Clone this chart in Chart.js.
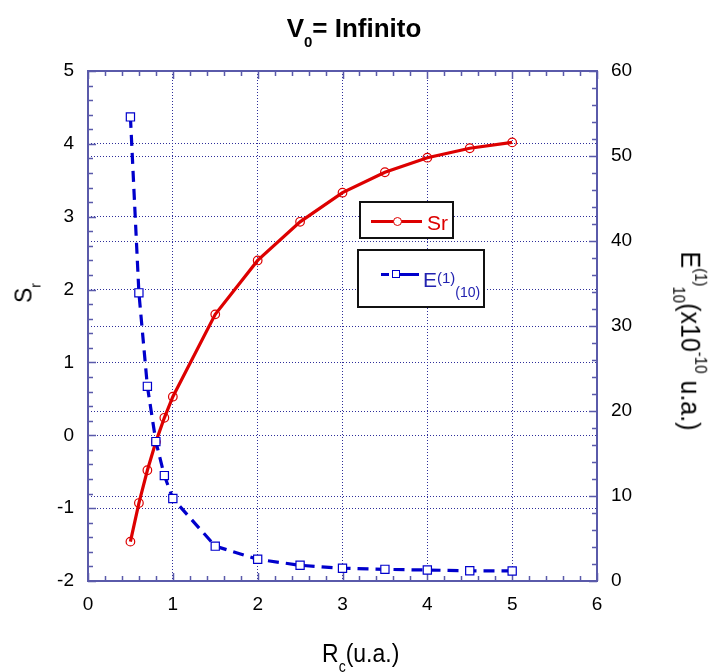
<!DOCTYPE html>
<html>
<head>
<meta charset="utf-8">
<script src="https://cdn.jsdelivr.net/npm/chart.js@4.4.1/dist/chart.umd.min.js"></script>
<style>
  html,body{margin:0;padding:0;background:#fff;}
  #wrap{position:relative;width:715px;height:672px;overflow:hidden;font-family:'Liberation Sans',Arial,sans-serif;}
  canvas{position:absolute;left:0;top:0;}
  .abs{position:absolute;white-space:nowrap;line-height:1;}
  .box{position:absolute;box-sizing:border-box;border:2px solid #111;background:#fff;}
</style>
</head>
<body>
<div id="wrap">
  <canvas id="c" width="715" height="672"></canvas>
  <div class="abs" id="title" style="left:0;width:708px;text-align:center;top:15px;font-size:26px;font-weight:bold;color:#000;">V<span style="font-size:15px;position:relative;top:10px;">0</span>= Infinito</div>
  <div class="abs" id="xlab" style="left:322px;top:640px;font-size:23px;color:#000;transform:scaleY(1.15);transform-origin:left top;">R<span style="font-size:14px;position:relative;top:9px;">c</span>(u.a.)</div>
  <div class="abs" id="ylab" style="left:24px;top:293px;font-size:23px;color:#000;transform:translate(-50%,-50%) rotate(-90deg);">S<span style="font-size:14px;position:relative;top:9px;">r</span></div>
  <div class="abs" id="y1lab" style="left:691px;top:341px;font-size:25px;color:#000;transform:translate(-50%,-50%) rotate(90deg) scaleY(1.1);">E<span style="font-size:15px;position:relative;top:-12px;">(1)</span><span style="font-size:15px;position:relative;top:8px;">10</span>(x10<span style="font-size:15px;position:relative;top:-12px;">-10</span> u.a.)</div>

  <div class="box" style="left:359px;top:201px;width:95px;height:38px;"></div>
  <div style="position:absolute;left:371px;top:219.5px;width:51px;height:3px;background:#dd0000;"></div>
  <div style="position:absolute;left:393px;top:217px;width:9px;height:9px;box-sizing:border-box;border:1.2px solid #dd0000;border-radius:50%;background:#fff;"></div>
  <div class="abs" style="left:427px;top:212px;font-size:21px;color:#dd0000;">Sr</div>

  <div class="box" style="left:357px;top:249px;width:128px;height:59px;"></div>
  <div style="position:absolute;left:381px;top:272.5px;width:8px;height:3px;background:#0000cc;"></div>
  <div style="position:absolute;left:400px;top:272.5px;width:19px;height:3px;background:#0000cc;"></div>
  <div style="position:absolute;left:392px;top:270px;width:8px;height:8px;box-sizing:border-box;border:1.2px solid #0000cc;background:#fff;"></div>
  <div class="abs" style="left:423px;top:269px;font-size:21px;color:#2222b0;">E<span style="font-size:15px;position:relative;top:-4px;">(1)</span><span style="font-size:14px;position:relative;top:10px;">(10)</span></div>
</div>
<script>
// ---- data ----
const rcValues = [0.5, 0.6, 0.7, 0.8, 0.9, 1.0, 1.5, 2.0, 2.5, 3.0, 3.5, 4.0, 4.5, 5.0];
const srValues = [-1.46, -0.93, -0.48, -0.09, 0.24, 0.53, 1.66, 2.40, 2.93, 3.33, 3.61, 3.81, 3.94, 4.02];
const eValues  = [54.6, 33.9, 22.9, 16.4, 12.4, 9.7, 4.1, 2.55, 1.85, 1.5, 1.37, 1.29, 1.2, 1.18];
const xTickRange = [0, 6];
const yLeftRange = [-2, 5];
const yRightRange = [0, 60];

const FONT = "'Liberation Sans', Arial, sans-serif";
const GRID = '#2e2e9a';
const FRAME = '#5a5aaa';
const RED = '#dd0000';
const BLUE = '#0000cc';

function pts(xs, ys){ return xs.map((x,i)=>({x:x, y:ys[i]})); }

function gridColor(min, max){
  return (c) => (c.tick && (Math.abs(c.tick.value-min)<1e-9 || Math.abs(c.tick.value-max)<1e-9)) ? 'rgba(0,0,0,0)' : GRID;
}

const frameTicks = {
  id: 'frameTicks',
  beforeDatasetsDraw(chart){
    const {ctx, chartArea:a, scales} = chart;
    ctx.save();
    ctx.strokeStyle = FRAME;
    ctx.lineWidth = 1.5;
    ctx.beginPath();
    const sx = scales.x;
    for (let k=0; ; k++){
      const v = sx.min + k*0.2;
      if (v > sx.max + 1e-9) break;
      const px = Math.round(sx.getPixelForValue(v)) + 0.5;
      const major = Math.abs(v - Math.round(v)) < 1e-6;
      const L = major ? 8 : 5;
      ctx.moveTo(px, a.bottom); ctx.lineTo(px, a.bottom - L);
      ctx.moveTo(px, a.top); ctx.lineTo(px, a.top + L);
    }
    const sy = scales.y;
    for (let k=0; ; k++){
      const v = sy.min + k*0.2;
      if (v > sy.max + 1e-9) break;
      const py = Math.round(sy.getPixelForValue(v)) + 0.5;
      const major = Math.abs(v - Math.round(v)) < 1e-6;
      const L = major ? 8 : 5;
      ctx.moveTo(a.left, py); ctx.lineTo(a.left + L, py);
    }
    const sy1 = scales.y1;
    for (let k=0; ; k++){
      const v = sy1.min + k*2;
      if (v > sy1.max + 1e-9) break;
      const py = Math.round(sy1.getPixelForValue(v)) + 0.5;
      const major = Math.abs(v/10 - Math.round(v/10)) < 1e-6;
      const L = major ? 8 : 5;
      ctx.moveTo(a.right, py); ctx.lineTo(a.right - L, py);
    }
    ctx.stroke();
    ctx.lineWidth = 2;
    ctx.strokeRect(a.left, a.top, a.right - a.left, a.bottom - a.top);
    ctx.restore();
  }
};

new Chart(document.getElementById('c'), {
  type: 'line',
  data: {
    datasets: [
      {
        label: 'E(1)(10)',
        data: pts(rcValues, eValues),
        yAxisID: 'y1',
        borderColor: BLUE,
        borderWidth: 3.2,
        borderDash: [11, 7],
        tension: 0,
        pointStyle: 'rect',
        pointRadius: 5.8,
        pointBorderWidth: 1.2,
        pointBorderColor: BLUE,
        pointBackgroundColor: '#fff',
        fill: false
      },
      {
        label: 'Sr',
        data: pts(rcValues, srValues),
        yAxisID: 'y',
        borderColor: RED,
        borderWidth: 3.2,
        tension: 0,
        pointStyle: 'circle',
        pointRadius: 4.3,
        pointBorderWidth: 1.2,
        pointBorderColor: RED,
        pointBackgroundColor: 'rgba(255,255,255,0)',
        fill: false
      }
    ]
  },
  options: {
    responsive: false,
    animation: false,
    layout: { padding: { top: 71, left: 0, right: 0, bottom: 0 } },
    plugins: { legend: { display: false }, tooltip: { enabled: false }, title: { display: false } },
    scales: {
      x: {
        type: 'linear', min: xTickRange[0], max: xTickRange[1],
        ticks: { stepSize: 1, padding: 12, color: '#000', font: { family: FONT, size: 19 } },
        grid: { color: gridColor(xTickRange[0], xTickRange[1]), lineWidth: 1, drawTicks: false },
        border: { display: false, dash: [1, 2] },
        afterFit(s){ s.height = 91; }
      },
      y: {
        type: 'linear', position: 'left', min: yLeftRange[0], max: yLeftRange[1],
        ticks: { stepSize: 1, padding: 14, color: '#000', font: { family: FONT, size: 19 } },
        grid: { color: gridColor(yLeftRange[0], yLeftRange[1]), lineWidth: 1, drawTicks: false },
        border: { display: false, dash: [1, 2] },
        afterFit(s){ s.width = 88; }
      },
      y1: {
        type: 'linear', position: 'right', min: yRightRange[0], max: yRightRange[1],
        ticks: { stepSize: 10, padding: 14, color: '#000', font: { family: FONT, size: 19 } },
        grid: { color: gridColor(yRightRange[0], yRightRange[1]), lineWidth: 1, drawTicks: false, drawOnChartArea: true },
        border: { display: false, dash: [1, 2] },
        afterFit(s){ s.width = 118; }
      }
    }
  },
  plugins: [frameTicks]
});
</script>
</body>
</html>
